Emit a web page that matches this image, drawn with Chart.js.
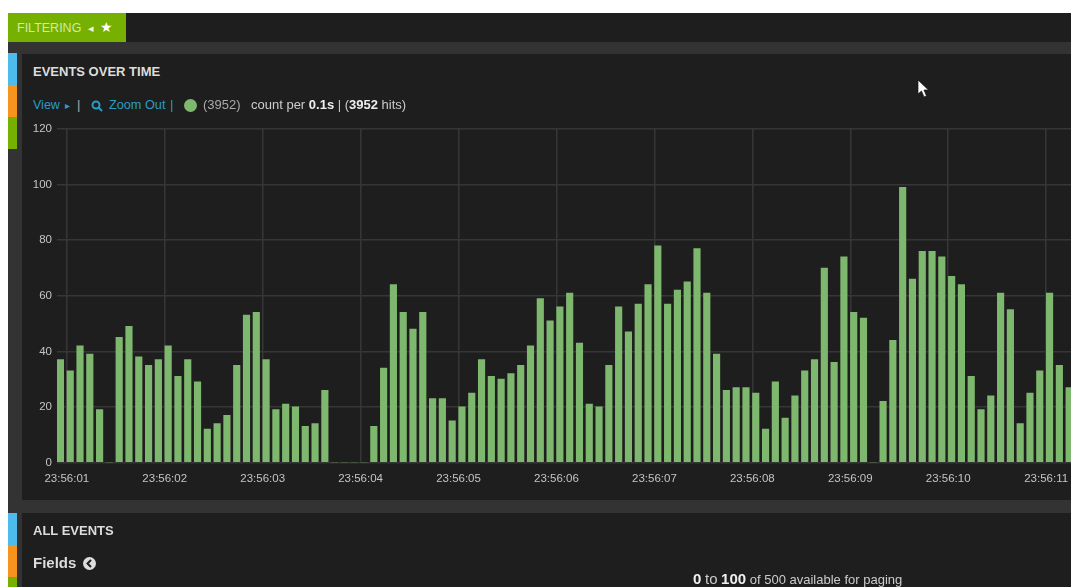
<!DOCTYPE html>
<html>
<head>
<meta charset="utf-8">
<title>Events over time</title>
<script src="https://cdn.jsdelivr.net/npm/chart.js@4"></script>
<style>
  html, body { margin: 0; background: #fff; overflow: hidden; }
  #page { position: absolute; left: 0; top: 0; width: 1071px; height: 587px; overflow: hidden; font-family: "Liberation Sans", Arial, sans-serif; color: #ccc; filter: blur(0.4px); }
  .box, .txt { position: absolute; }
  .txt { white-space: nowrap; font-size: 13px; line-height: 14px; }
  .title { font-weight: bold; color: #ddd; font-size: 13px; }
  .link { color: #2b9cc4; }
  b { color: #eee; }
  canvas { position: absolute; left: 0; top: 0; }
</style>
</head>
<body>
<div id="page">
  <div class="box" style="left:8px;top:13px;width:1063px;height:574px;background:#1e1e1e"></div>
  <div class="box" style="left:8px;top:13px;width:118px;height:29px;background:#76b000"></div>
  <div class="box" style="left:8px;top:42px;width:1063px;height:12px;background:#333"></div>
  <div class="box" style="left:8px;top:500px;width:1063px;height:13px;background:#333"></div>
  <div class="box" style="left:17px;top:54px;width:5px;height:533px;background:#333"></div>

  <div class="box" style="left:8px;top:53px;width:9px;height:32px;background:#4dbcec"></div>
  <div class="box" style="left:8px;top:85px;width:9px;height:32px;background:#f7941d"></div>
  <div class="box" style="left:8px;top:117px;width:9px;height:32px;background:#76b000"></div>
  <div class="box" style="left:8px;top:149px;width:9px;height:351px;background:#333"></div>
  <div class="box" style="left:8px;top:513px;width:9px;height:32px;background:#4dbcec"></div>
  <div class="box" style="left:8px;top:545px;width:9px;height:32px;background:#f7941d"></div>
  <div class="box" style="left:8px;top:577px;width:9px;height:10px;background:#76b000"></div>

  <div class="txt" style="left:17px;top:21px;color:#d5e8a8;font-size:12.5px">FILTERING</div>
  <div class="txt" style="left:88px;top:21px;color:#eef5d8;font-size:11px">◂</div>
  <div class="txt" style="left:100px;top:20px;color:#fff;font-size:14px;font-family:'DejaVu Sans'">★</div>

  <div class="txt title" style="left:33px;top:65px">EVENTS OVER TIME</div>
  <div class="txt link" style="left:33px;top:98px;font-size:12.5px">View</div>
  <div class="txt link" style="left:65px;top:99px;font-size:10px">▸</div>
  <div class="txt" style="left:77px;top:98px;color:#aaa">|</div>
  <svg class="box" style="left:91px;top:100px" width="13" height="13" viewBox="0 0 13 13"><circle cx="5" cy="5" r="3.5" fill="none" stroke="#2b9cc4" stroke-width="2"/><line x1="7.5" y1="7.5" x2="11" y2="11" stroke="#2b9cc4" stroke-width="2"/></svg>
  <div class="txt link" style="left:109px;top:98px;font-size:12.7px">Zoom Out</div>
  <div class="txt link" style="left:170px;top:98px">|</div>
  <div class="box" style="left:184px;top:99px;width:13px;height:13px;border-radius:50%;background:#7eb86e"></div>
  <div class="txt" style="left:203px;top:98px;color:#aaa">(3952)</div>
  <div class="txt" style="left:251px;top:98px">count per <b>0.1s</b> | (<b>3952</b> hits)</div>

  <canvas id="chart" width="1100" height="587"></canvas>

  <div class="txt title" style="left:33px;top:524px">ALL EVENTS</div>
  <div class="txt" style="left:33px;top:556px;font-size:15px;font-weight:bold;color:#ddd">Fields</div>
  <svg class="box" style="left:83px;top:557px" width="13" height="13" viewBox="0 0 13 13"><circle cx="6.5" cy="6.5" r="6.5" fill="#ddd"/><path d="M8 3 L4.5 6.5 L8 10" fill="none" stroke="#1e1e1e" stroke-width="2"/></svg>
  <div class="txt" style="left:693px;top:572px"><b style="font-size:15px">0</b> <span style="font-size:15px">to</span> <b style="font-size:15px">100</b> of 500 available for paging</div>

  <svg class="box" style="left:917px;top:79px" width="13" height="19" viewBox="0 0 13 19"><path d="M1 1 L1 15 L4.5 12 L7 18 L9.5 17 L7 11 L11.5 11 Z" fill="#fff" stroke="#111" stroke-width="0.7"/></svg>
</div>

<script>
// time of each bar in seconds after 23:56:00
const barTimes = [
  0.9, 1.0, 1.1, 1.2, 1.3, 1.4, 1.5, 1.6, 1.7, 1.8, 1.9,
  2.0, 2.1, 2.2, 2.3, 2.4, 2.5, 2.6, 2.7, 2.8, 2.9,
  3.0, 3.1, 3.2, 3.3, 3.4, 3.5, 3.6, 3.7, 3.8, 3.9,
  4.0, 4.1, 4.2, 4.3, 4.4, 4.5, 4.6, 4.7, 4.8, 4.9,
  5.0, 5.1, 5.2, 5.3, 5.4, 5.5, 5.6, 5.7, 5.8, 5.9,
  6.0, 6.1, 6.2, 6.3, 6.4, 6.5, 6.6, 6.7, 6.8, 6.9,
  7.0, 7.1, 7.2, 7.3, 7.4, 7.5, 7.6, 7.7, 7.8, 7.9,
  8.0, 8.1, 8.2, 8.3, 8.4, 8.5, 8.6, 8.7, 8.8, 8.9,
  9.0, 9.1, 9.2, 9.3, 9.4, 9.5, 9.6, 9.7, 9.8, 9.9,
  10.0, 10.1, 10.2, 10.3, 10.4, 10.5, 10.6, 10.7, 10.8, 10.9,
  11.0, 11.1, 11.2
];
const counts = [
  37, 33, 42, 39, 19, 0, 45, 49, 38, 35, 37,
  42, 31, 37, 29, 12, 14, 17, 35, 53, 54,
  37, 19, 21, 20, 13, 14, 26, 0, 0, 0,
  0, 13, 34, 64, 54, 48, 54, 23, 23, 15,
  20, 25, 37, 31, 30, 32, 35, 42, 59, 51,
  56, 61, 43, 21, 20, 35, 56, 47, 57, 64,
  78, 57, 62, 65, 77, 61, 39, 26, 27, 27,
  25, 12, 29, 16, 24, 33, 37, 70, 36, 74,
  54, 52, 0, 22, 44, 99, 66, 76, 76, 74,
  67, 64, 31, 19, 24, 61, 55, 14, 25, 33,
  61, 35, 27
];
const secondTicks = [1, 2, 3, 4, 5, 6, 7, 8, 9, 10, 11];
const secondLabels = ['23:56:01', '23:56:02', '23:56:03', '23:56:04', '23:56:05', '23:56:06', '23:56:07', '23:56:08', '23:56:09', '23:56:10', '23:56:11'];

const tickFont = { family: '"Liberation Sans", Arial, sans-serif', size: 11.5 };
const gridColor = '#363636';
const barSpan = 0.07; // bars start at their time, they are not centred on it

new Chart(document.getElementById('chart').getContext('2d'), {
    type: 'bar',
    data: {
        datasets: [{
            label: 'count',
            data: barTimes.map((t, i) => ({ x: t + barSpan / 2, y: counts[i] })),
            backgroundColor: '#7eb86e',
            borderWidth: 0,
            barThickness: 6.5
        }]
    },
    options: {
        responsive: false,
        animation: false,
        layout: { padding: { top: 129, left: 0, right: 0, bottom: 0 } },
        plugins: { legend: { display: false }, tooltip: { enabled: false } },
        scales: {
            x: {
                type: 'linear',
                offset: false,
                min: 0.9,
                max: 11.55,
                afterBuildTicks: (scale) => { scale.ticks = secondTicks.map(v => ({ value: v })); },
                afterFit: (scale) => { scale.height = 124.5; },
                border: { color: gridColor },
                grid: { offset: false, color: gridColor, lineWidth: 1.5, drawTicks: false },
                ticks: {
                    autoSkip: false,
                    maxRotation: 0,
                    padding: 9,
                    color: '#c4c4c4',
                    font: tickFont,
                    callback: (v) => secondLabels[secondTicks.indexOf(v)]
                }
            },
            y: {
                min: 0,
                max: 120,
                afterFit: (scale) => { scale.width = 57; },
                border: { display: false },
                grid: { color: gridColor, lineWidth: 1.5, drawTicks: false },
                ticks: { stepSize: 20, padding: 5, color: '#c4c4c4', font: tickFont }
            }
        }
    }
});
</script>
</body>
</html>
